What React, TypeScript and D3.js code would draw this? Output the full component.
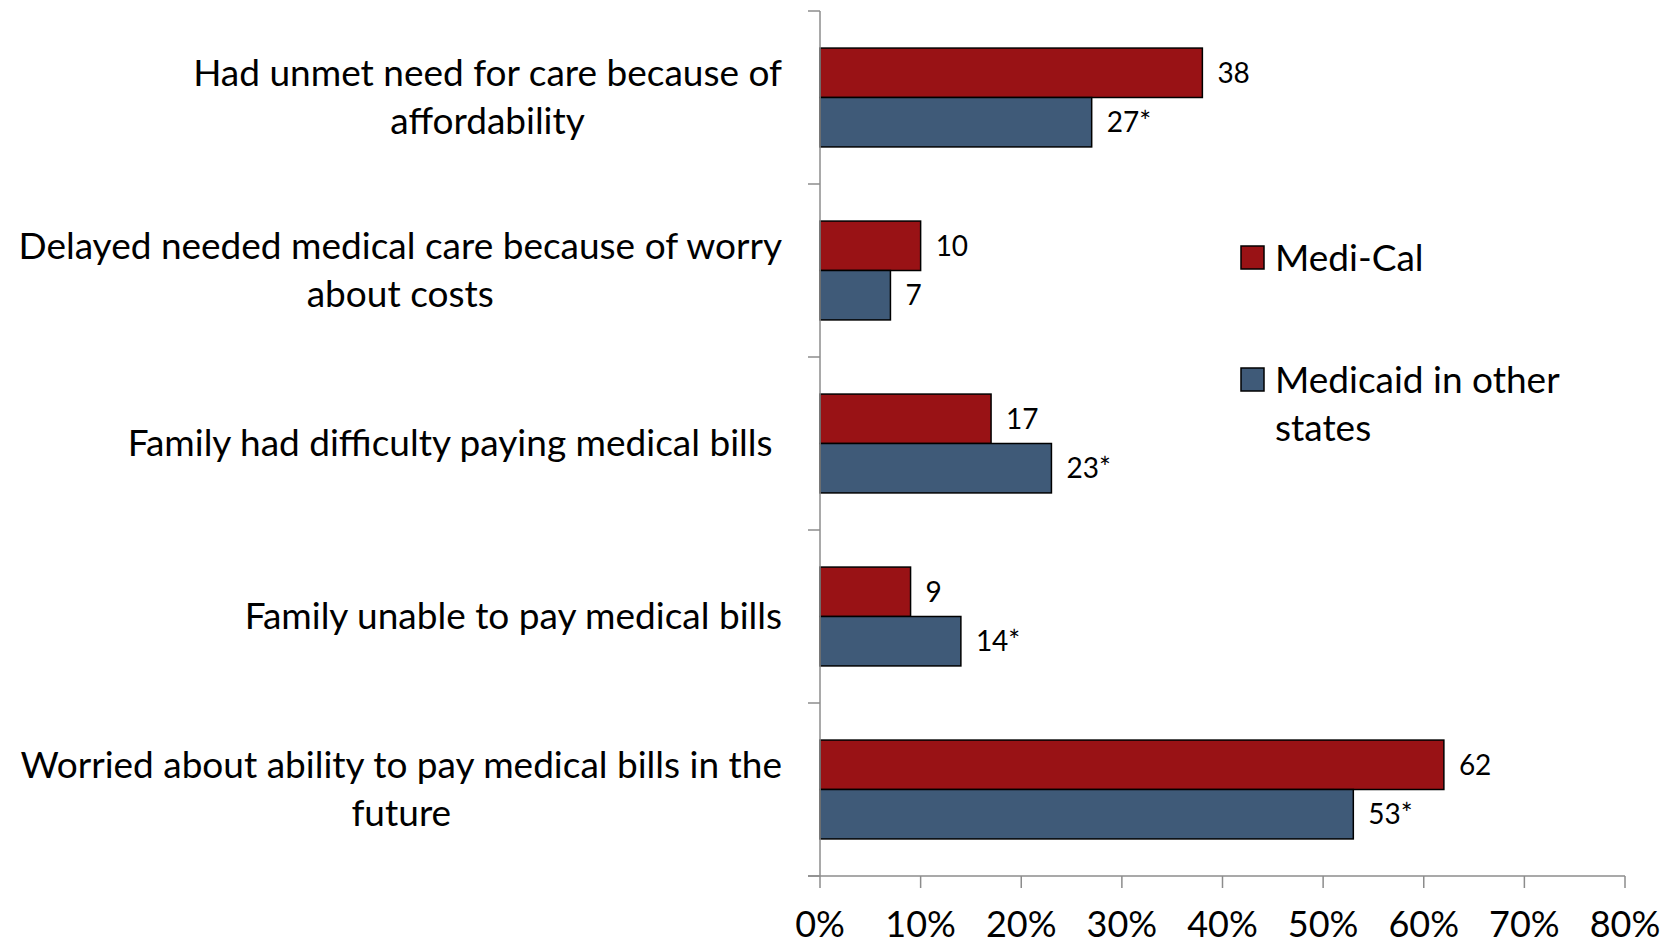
import React, { useEffect, useRef } from "react";
import * as d3 from "d3";

// Survey measures (label lines are drawn centred, block right-aligned to the axis)
const categories: string[][] = [
  ["Had unmet need for care because of", "affordability"],
  ["Delayed needed medical care because of worry", "about costs"],
  ["Family had difficulty paying medical bills "],
  ["Family unable to pay medical bills"],
  ["Worried about ability to pay medical bills in the", "future"],
];

const seriesNames = ["Medi-Cal", "Medicaid in other states"];
const legendLines: string[][] = [["Medi-Cal"], ["Medicaid in other", "states"]];
const mediCal = [38, 10, 17, 9, 62];
const medicaidOther = [27, 7, 23, 14, 53];
const significant = [true, false, true, true, true];
const xTicks = [0, 10, 20, 30, 40, 50, 60, 70, 80];

const COLORS = ["#991215", "#3F5A78"];
const FONT = "Lato, 'Open Sans', sans-serif";

export default function App() {
  const ref = useRef<SVGSVGElement | null>(null);

  useEffect(() => {
    const svg = d3.select(ref.current!);
    svg.selectAll("*").remove();

    const left = 820;
    const right = 1625;
    const top = 11;
    const bottom = 876;

    const x = d3.scaleLinear().domain([0, 80]).range([left, right]);
    const y = d3
      .scaleBand<number>()
      .domain(d3.range(categories.length))
      .range([top, bottom])
      .padding(0);
    const inner = d3
      .scaleBand<number>()
      .domain([0, 1])
      .range([0, y.bandwidth()])
      .paddingInner(0)
      .paddingOuter(0.75);

    const values = [mediCal, medicaidOther];

    // bars
    const g = svg.append("g");
    values.forEach((vals, s) => {
      g.selectAll(null)
        .data(vals)
        .enter()
        .append("rect")
        .attr("x", x(0))
        .attr("y", (_d, i) => y(i)! + inner(s)!)
        .attr("width", (d) => x(d) - x(0))
        .attr("height", inner.bandwidth())
        .attr("fill", COLORS[s])
        .attr("stroke", "#000")
        .attr("stroke-width", 1.5);

      g.selectAll(null)
        .data(vals)
        .enter()
        .append("text")
        .attr("x", (d) => x(d) + 15)
        .attr("y", (_d, i) => y(i)! + inner(s)! + inner.bandwidth() / 2)
        .attr("dy", "0.35em")
        .attr("font-family", FONT)
        .attr("font-size", 28)
        .attr("fill", "#000")
        .text((d, i) => (s === 1 && significant[i] ? `${d}*` : `${d}`));
    });

    // axes
    const axisColor = "#8C8C8C";
    const ax = svg.append("g").attr("stroke", axisColor).attr("stroke-width", 1.5);
    ax.append("line").attr("x1", left).attr("x2", left).attr("y1", top).attr("y2", bottom);
    ax.append("line").attr("x1", left - 12).attr("x2", right).attr("y1", bottom).attr("y2", bottom);
    d3.range(categories.length + 1).forEach((i) => {
      const yy = top + i * y.step();
      ax.append("line").attr("x1", left - 12).attr("x2", left).attr("y1", yy).attr("y2", yy);
    });
    xTicks.forEach((t) => {
      ax.append("line").attr("x1", x(t)).attr("x2", x(t)).attr("y1", bottom).attr("y2", bottom + 12);
    });

    svg
      .append("g")
      .selectAll("text")
      .data(xTicks)
      .enter()
      .append("text")
      .attr("x", (d) => x(d))
      .attr("y", 924)
      .attr("dy", "0.35em")
      .attr("text-anchor", "middle")
      .attr("font-family", FONT)
      .attr("font-size", 36)
      .attr("fill", "#000")
      .text((d) => `${d}%`);

    // category labels
    const labelRight = 782;
    const lineGap = 48;
    categories.forEach((lines, i) => {
      const cy = y(i)! + y.bandwidth() / 2;
      const grp = svg.append("g");
      const texts = lines.map((ln, k) =>
        grp
          .append("text")
          .attr("font-family", FONT)
          .attr("font-size", 37)
          .attr("fill", "#000")
          .attr("dy", "0.35em")
          .style("white-space", "pre")
          .attr("y", cy + (k - (lines.length - 1) / 2) * lineGap)
          .text(ln)
      );
      const widths = texts.map((t) => (t.node() as SVGTextElement).getComputedTextLength());
      const maxW = Math.max(...widths);
      const cx = labelRight - maxW / 2;
      texts.forEach((t) => t.attr("x", cx).attr("text-anchor", "middle"));
    });

    // legend
    const legendX = 1241;
    const legendRows = [258, 380];
    seriesNames.forEach((_name, s) => {
      const ly = legendRows[s];
      svg
        .append("rect")
        .attr("x", legendX)
        .attr("y", ly - 12)
        .attr("width", 23)
        .attr("height", 23)
        .attr("fill", COLORS[s])
        .attr("stroke", "#000")
        .attr("stroke-width", 1.5);
      legendLines[s].forEach((ln, k) => {
        svg
          .append("text")
          .attr("x", legendX + 34)
          .attr("y", ly + k * lineGap)
          .attr("dy", "0.35em")
          .attr("font-family", FONT)
          .attr("font-size", 37)
          .attr("fill", "#000")
          .text(ln);
      });
    });
  }, []);

  return (
    <svg
      ref={ref}
      width={1680}
      height={945}
      style={{ position: "absolute", left: 0, top: 0, background: "#fff" }}
    />
  );
}
